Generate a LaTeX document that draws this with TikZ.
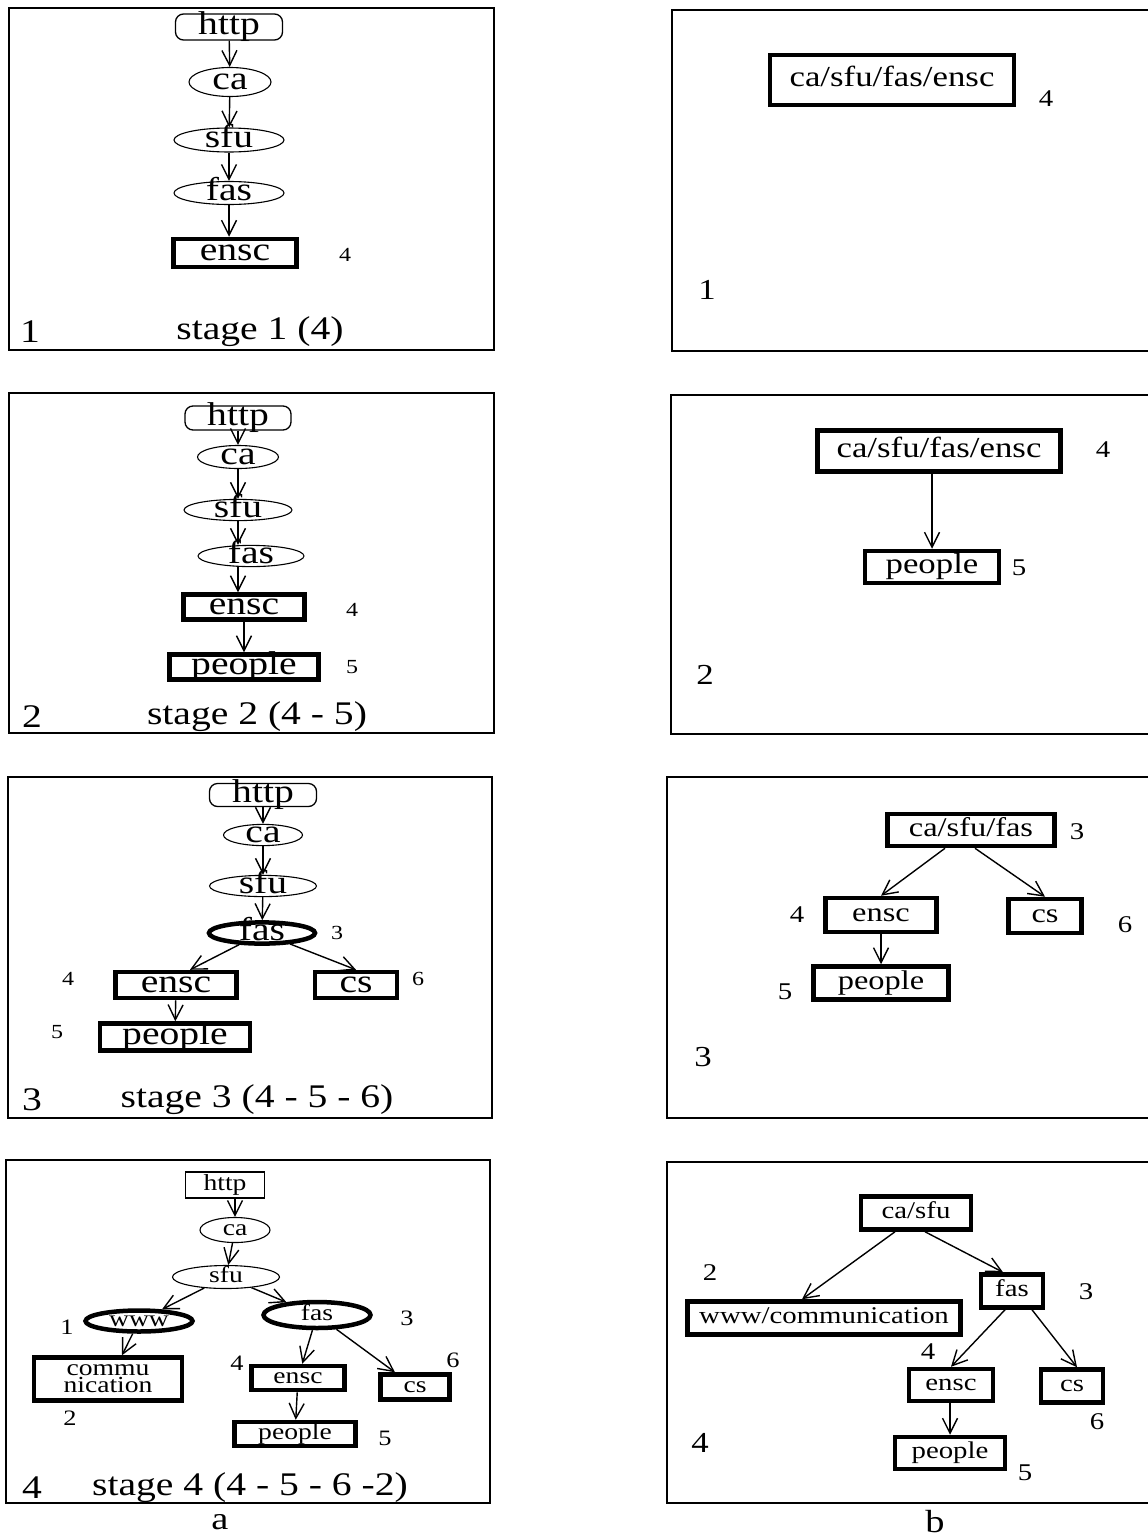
\documentclass[tikz,border=0pt]{standalone}
\usepackage{fontspec}
\setmainfont{Liberation Serif}[FakeStretch=1.2]
\usetikzlibrary{arrows.meta, shapes.geometric}
\newcommand\figsize[1]{\fontsize{#1}{#1}\selectfont}
\newcommand\xh{15pt}

\begin{document}
\begin{tikzpicture}[
  x=1pt, y=-1pt,
  >={Straight Barb[length=15pt, width=15pt]},
  frame/.style={line width=1.5pt},
  sz/.style 2 args={minimum width=#1pt, minimum height=#2pt},
  tag/.style={inner sep=0pt, text height=\xh, text depth=0pt},
  root/.style={tag, rectangle, rounded corners=8pt, draw, line width=1.3pt},
  flat/.style={tag, rectangle, draw, line width=1.3pt},
  dom/.style={tag, ellipse, draw, line width=1.1pt},
  hot/.style={tag, ellipse, draw, line width=4.5pt},
  leaf/.style={tag, rectangle, draw, line width=4.5pt},
  link/.style={->, line width=1.4pt},
  num/.style={inner sep=0pt}
]
  \useasboundingbox (0,0) rectangle (1148,1539);

  % --- a: stage 1 ---
  \begin{scope}[nodes={font=\figsize{33}}]
    \def\xh{15pt}
    \draw[frame] (9,8) rectangle (494,350);
    \node[root, sz={107}{26}] (a1http) at (229,27)  {http};
    \node[dom,  sz={82}{29}]  (a1ca)   at (230,82)  {ca};
    \node[dom,  sz={110}{24}] (a1sfu)  at (229,140) {sfu};
    \node[dom,  sz={110}{23}] (a1fas)  at (229,193) {fas};
    \node[leaf, sz={123}{28}] (a1ensc) at (235,253) {ensc};
    \node[num, font=\figsize{20}] (a1n4) at (345,255) {4};
    \node[num] (a1id)  at (30,332)  {1};
    \node[num] (a1cap) at (260,332) {stage 1 (4)};
    \draw[link] (a1http) -- (a1ca);
    \draw[link] (a1ca)   -- (a1sfu);
    \draw[link] (a1sfu)  -- (a1fas);
    \draw[link] (a1fas)  -- (a1ensc.north -| a1fas);
  \end{scope}

  % --- a: stage 2 ---
  \begin{scope}[nodes={font=\figsize{33}}]
    \def\xh{15pt}
    \draw[frame] (9,393) rectangle (494,733);
    \node[root, sz={106}{24}] (a2http) at (238,418) {http};
    \node[dom,  sz={81}{23}]  (a2ca)   at (238,457) {ca};
    \node[dom,  sz={108}{21}] (a2sfu)  at (238,510) {sfu};
    \node[dom,  sz={106}{21}] (a2fas)  at (251,556) {fas};
    \node[leaf, sz={121}{25}] (a2ensc) at (244,607) {ensc};
    \node[leaf, sz={149}{25}] (a2ppl)  at (244,667) {people};
    \node[num, font=\figsize{20}] (a2n4) at (352,610) {4};
    \node[num, font=\figsize{20}] (a2n5) at (352,667) {5};
    \node[num] (a2id)  at (32,717)  {2};
    \node[num] (a2cap) at (257,717) {stage 2 (4 - 5)};
    \draw[link] (a2http) -- (a2ca);
    \draw[link] (a2ca)   -- (a2sfu);
    \draw[link] (a2sfu)  -- (a2fas.north -| a2sfu);
    \draw[link] (a2fas.south -| a2sfu) -- (a2ensc.north -| a2sfu);
    \draw[link] (a2ensc) -- (a2ppl);
  \end{scope}

  % --- a: stage 3 ---
  \begin{scope}[nodes={font=\figsize{33}}]
    \def\xh{15pt}
    \draw[frame] (8,777) rectangle (492,1118);
    \node[root, sz={107}{23}] (a3http) at (263,795)  {http};
    \node[dom,  sz={79}{21}]  (a3ca)   at (263,835)  {ca};
    \node[dom,  sz={107}{21}] (a3sfu)  at (263,886)  {sfu};
    \node[hot,  sz={106}{20}] (a3fas)  at (262,933)  {fas};
    \node[leaf, sz={121}{26}] (a3ensc) at (176,985)  {ensc};
    \node[leaf, sz={82}{26}]  (a3cs)   at (356,985)  {cs};
    \node[leaf, sz={150}{27}] (a3ppl)  at (175,1037) {people};
    \node[num, font=\figsize{20}] (a3n3) at (337,933)  {3};
    \node[num, font=\figsize{20}] (a3n4) at (68,979)   {4};
    \node[num, font=\figsize{20}] (a3n6) at (418,979)  {6};
    \node[num, font=\figsize{20}] (a3n5) at (57,1032)  {5};
    \node[num] (a3id)  at (32,1100)  {3};
    \node[num] (a3cap) at (257,1100) {stage 3 (4 - 5 - 6)};
    \draw[link] (a3http) -- (a3ca);
    \draw[link] (a3ca)   -- (a3sfu);
    \draw[link] (a3sfu)  -- (a3fas);
    \draw[link] (a3fas)  -- ([xshift=14pt]a3ensc.north);
    \draw[link] (a3fas)  -- (a3cs.north);
    \draw[link] (a3ensc) -- (a3ppl);
  \end{scope}

  % --- a: stage 4 ---
  \begin{scope}[nodes={font=\figsize{23}}]
    \def\xh{10.5pt}
    \draw[frame] (6,1160) rectangle (490,1503);
    \node[flat, sz={79}{26}]  (a4http) at (225,1185) {http};
    \node[dom,  sz={70}{25}]  (a4ca)   at (235,1230) {ca};
    \node[dom,  sz={107}{23}] (a4sfu)  at (226,1277) {sfu};
    \node[hot,  sz={107}{21}] (a4www)  at (139,1321) {www};
    \node[hot,  sz={107}{26}] (a4fas)  at (317,1315) {fas};
    \node[draw, line width=4.5pt, inner sep=0pt, sz={148}{43}, align=center,
          font=\fontsize{23}{17}\selectfont] (a4comm) at (108,1379) {commu\\nication};
    \node[leaf, sz={93}{24}]  (a4ensc) at (298,1378) {ensc};
    \node[leaf, sz={69}{25}]  (a4cs)   at (415,1387) {cs};
    \node[leaf, sz={121}{24}] (a4ppl)  at (295,1434) {people};
    \node[num, font=\figsize{22}] (a4n1) at (67,1327)  {1};
    \node[num, font=\figsize{22}] (a4n3) at (407,1318) {3};
    \node[num, font=\figsize{22}] (a4n2) at (70,1418)  {2};
    \node[num, font=\figsize{22}] (a4n4) at (237,1363) {4};
    \node[num, font=\figsize{22}] (a4n6) at (453,1360) {6};
    \node[num, font=\figsize{22}] (a4n5) at (385,1438) {5};
    \node[num, font=\figsize{33}] (a4id)  at (32,1488)  {4};
    \node[num, font=\figsize{33}] (a4cap) at (250,1488) {stage 4 (4 - 5 - 6 -2)};
    \node[num, font=\figsize{32}] (acap)  at (220,1522) {a};
    \draw[link] (a4http.south -| a4ca) -- (a4ca);
    \draw[link] (a4ca)   -- (a4sfu);
    \draw[link] (a4sfu)  -- (a4www);
    \draw[link] (a4sfu)  -- (a4fas);
    \draw[link] (a4www)  -- ([xshift=14pt]a4comm.north);
    \draw[link] (a4fas)  -- (a4ensc);
    \draw[link] (a4fas)  -- (a4cs);
    \draw[link] (a4ensc) -- (a4ppl);
  \end{scope}

  % --- b: stage 1 ---
  \begin{scope}[nodes={font=\figsize{29}}]
    \def\xh{13.3pt}
    \draw[frame] (1148,10) -| (672,351) -- (1148,351);
    \node[leaf, sz={244}{50}] (b1top) at (892,80) {ca/sfu/fas/ensc};
    \node[num, font=\figsize{24}] (b1n4) at (1046,99) {4};
    \node[num] (b1id) at (707,290) {1};
  \end{scope}

  % --- b: stage 2 ---
  \begin{scope}[nodes={font=\figsize{29}}]
    \def\xh{13.3pt}
    \draw[frame] (1148,395) -| (671,734) -- (1148,734);
    \node[leaf, sz={243}{41}] (b2top) at (939,451) {ca/sfu/fas/ensc};
    \node[leaf, sz={134}{32}] (b2ppl) at (932,567) {people};
    \node[num, font=\figsize{24}] (b2n4) at (1103,450) {4};
    \node[num, font=\figsize{24}] (b2n5) at (1019,568) {5};
    \node[num] (b2id) at (705,675) {2};
    \draw[link] (b2top.south -| b2ppl) -- (b2ppl);
  \end{scope}

  % --- b: stage 3 ---
  \begin{scope}[nodes={font=\figsize{27}}]
    \def\xh{12.4pt}
    \draw[frame] (1148,777) -| (667,1118) -- (1148,1118);
    \node[leaf, sz={167}{32}] (b3top)  at (971,830) {ca/sfu/fas};
    \node[leaf, sz={111}{34}] (b3ensc) at (881,915) {ensc};
    \node[leaf, sz={73}{34}]  (b3cs)   at (1045,916) {cs};
    \node[leaf, sz={135}{33}] (b3ppl)  at (881,983) {people};
    \node[num, font=\figsize{24}] (b3n3) at (1077,832) {3};
    \node[num, font=\figsize{24}] (b3n4) at (797,915)  {4};
    \node[num, font=\figsize{24}] (b3n6) at (1125,925) {6};
    \node[num, font=\figsize{24}] (b3n5) at (785,992)  {5};
    \node[num, font=\figsize{29}] (b3id) at (703,1057) {3};
    \draw[link] ([xshift=-26pt]b3top.south) -- (b3ensc.north);
    \draw[link] ([xshift=4pt]b3top.south)   -- (b3cs.north);
    \draw[link] (b3ensc) -- (b3ppl);
  \end{scope}

  % --- b: stage 4 ---
  \begin{scope}[nodes={font=\figsize{24}}]
    \def\xh{11pt}
    \draw[frame] (1148,1162) -| (667,1503) -- (1148,1503);
    \node[leaf, sz={110}{33}] (b4top)  at (916,1213)  {ca/sfu};
    \node[leaf, sz={273}{33}] (b4www)  at (824,1318)  {www/communication};
    \node[leaf, sz={62}{33}]  (b4fas)  at (1012,1291) {fas};
    \node[leaf, sz={84}{32}]  (b4ensc) at (951,1385)  {ensc};
    \node[leaf, sz={62}{33}]  (b4cs)   at (1072,1386) {cs};
    \node[leaf, sz={110}{32}] (b4ppl)  at (950,1453)  {people};
    \node[num] (b4n2) at (710,1273)  {2};
    \node[num] (b4n3) at (1086,1292) {3};
    \node[num] (b4n4) at (928,1352)  {4};
    \node[num] (b4n6) at (1097,1422) {6};
    \node[num] (b4n5) at (1025,1473) {5};
    \node[num, font=\figsize{29}] (b4id) at (700,1443) {4};
    \node[num, font=\figsize{32}] (bcap) at (935,1522) {b};
    \draw[link] ([xshift=-21pt]b4top.south) -- ([xshift=-22pt]b4www.north);
    \draw[link] ([xshift=9pt]b4top.south)   -- ([xshift=-9pt]b4fas.north);
    \draw[link] ([xshift=-7pt]b4fas.south)  -- (b4ensc.north);
    \draw[link] ([xshift=20pt]b4fas.south)  -- ([xshift=5pt]b4cs.north);
    \draw[link] (b4ensc.south -| b4ppl.north) -- (b4ppl);
  \end{scope}
\end{tikzpicture}
\end{document}
